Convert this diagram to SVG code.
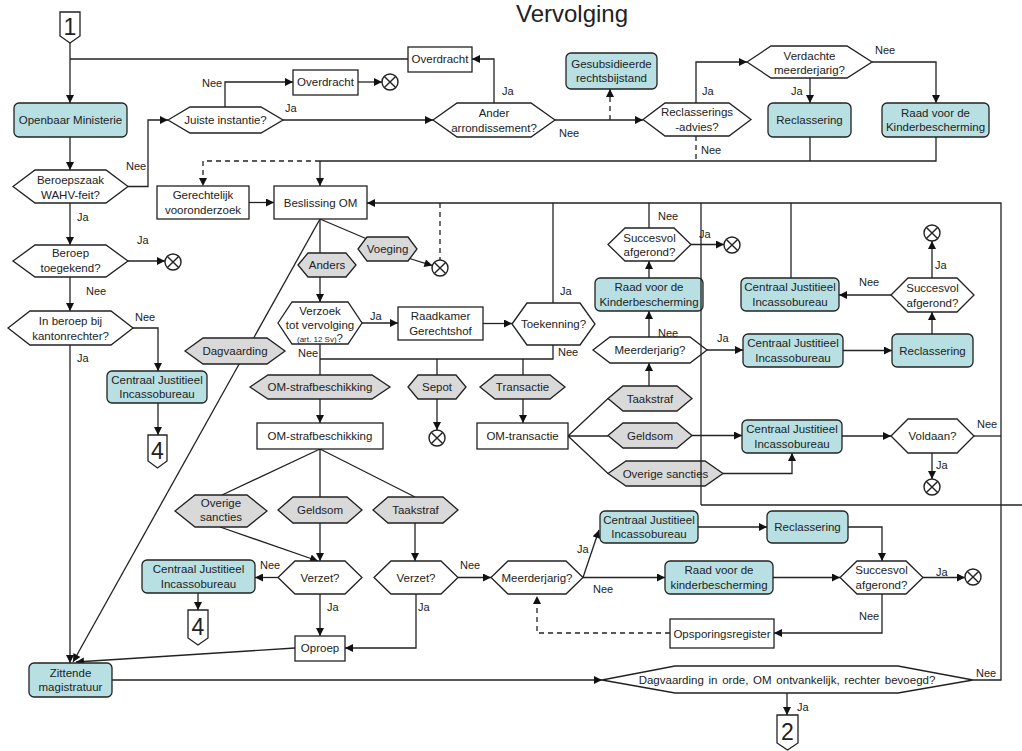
<svg xmlns="http://www.w3.org/2000/svg" xmlns:xlink="http://www.w3.org/1999/xlink" width="1022" height="751" viewBox="0 0 1022 751">
<style>
.w{fill:#fff;stroke:#222;stroke-width:1.3}
.t{fill:#b8e0e3;stroke:#222;stroke-width:1.3}
.g{fill:#d9d9d9;stroke:#222;stroke-width:1.3}
text{font-family:"Liberation Sans",Arial,sans-serif;fill:#222}
.tx{font-size:11.5px;text-anchor:middle}
.lb{font-size:11px}
.num{font-size:23px;text-anchor:middle}
.c{fill:none;stroke:#222;stroke-width:1.3}
.a{marker-end:url(#arr)}
.d{stroke-dasharray:5,4}
</style>
<defs>
<marker id="arr" viewBox="0 0 10 10" refX="10" refY="5" markerWidth="9" markerHeight="8" markerUnits="userSpaceOnUse" orient="auto"><path d="M0,0 L10,5 L0,10 z" fill="#111"/></marker>
<g id="x"><circle r="8" fill="#fff" stroke="#222" stroke-width="1.4"/><path d="M-5.6,-5.6 L5.6,5.6 M5.6,-5.6 L-5.6,5.6" stroke="#222" stroke-width="1.4"/></g>
</defs>
<rect width="1022" height="751" fill="#fff"/>
<text x="572" y="22" style="font-size:24px;text-anchor:middle">Vervolging</text>

<g id="connectors" class="c">
<path class="c a" d="M70,43 V103"/>
<path class="c" d="M408,59 H70"/>
<path class="c a" d="M70,137 V170"/>
<path class="c a" d="M128,186.5 H148 V120 H168"/>
<path class="c a" d="M70,203 V245"/>
<path class="c a" d="M128,261 H165"/>
<path class="c a" d="M70,277 V311"/>
<path class="c a" d="M133,328 H158 V371"/>
<path class="c a" d="M158,403 V435"/>
<path class="c a" d="M70,345 V663"/>
<path class="c a" d="M225,107 V82 H293"/>
<path class="c a" d="M358,82 H382"/>
<path class="c a" d="M283,120 H433"/>
<path class="c a" d="M494,103 V59 H472"/>
<path class="c a" d="M555,120 H643"/>
<path class="c a d" d="M610,120 V89"/>
<path class="c a" d="M696,103 V62 H747"/>
<path class="c d" d="M696,136 V161"/>
<path class="c a" d="M810,78 V103"/>
<path class="c a" d="M872,62 H936 V103"/>
<path class="c" d="M810,137 V161"/>
<path class="c" d="M936,137 V161 H320"/>
<path class="c a" d="M320,161 V186"/>
<path class="c a d" d="M320,161 H203 V186"/>
<path class="c a" d="M249,202.5 H274"/>
<path class="c a" d="M973,680 H1001 V203 H367"/>
<path class="c" d="M553,203 V303"/>
<path class="c" d="M649,203 V228"/>
<path class="c" d="M791,203 V278"/>
<path class="c d" d="M440,203 V260"/>
<path class="c" d="M701,505 H1022"/>
<path class="c" d="M320,219 V253"/>
<path class="c a" d="M320,277 V302"/>
<path class="c" d="M320,219 L367,239"/>
<path class="c a" d="M408,258 L432.4,265.6"/>
<path class="c a" d="M320,219 L73,662"/>
<path class="c a" d="M362,323 H398"/>
<path class="c a" d="M483,323.5 H512"/>
<path class="c" d="M553,345 V359 H320"/>
<path class="c" d="M320,344 V375"/>
<path class="c a" d="M320,399 V423"/>
<path class="c" d="M437,359 V375"/>
<path class="c" d="M523,359 V375"/>
<path class="c a" d="M437,399 V430"/>
<path class="c a" d="M523,399 V423"/>
<path class="c" d="M568,436 L608,398.5 M568,436 H608 M568,436 L608,473.5"/>
<path class="c a" d="M649,386 V363"/>
<path class="c a" d="M649,337 V311"/>
<path class="c a" d="M649,278 V261"/>
<path class="c a" d="M691,244.5 H724"/>
<path class="c a" d="M707,350 H743"/>
<path class="c a" d="M843,350.5 H892"/>
<path class="c a" d="M932,334 V312"/>
<path class="c a" d="M932,278 V241"/>
<path class="c a" d="M891,295 H839"/>
<path class="c a" d="M692,435.5 H742"/>
<path class="c a" d="M723,473.5 H792 V453"/>
<path class="c a" d="M842,436 H891"/>
<path class="c" d="M974,436 H1001"/>
<path class="c a" d="M932,453 V479"/>
<path class="c" d="M320,449 L222,495 M320,449 V497 M320,449 L415,497"/>
<path class="c a" d="M220,527 L318,561"/>
<path class="c a" d="M320,523 V561"/>
<path class="c a" d="M278,577.5 H255"/>
<path class="c a" d="M198,593 V610"/>
<path class="c a" d="M320,594 V636"/>
<path class="c a" d="M295,648 L76,662"/>
<path class="c a" d="M415,523 V561"/>
<path class="c a" d="M416,594 V648 H345"/>
<path class="c a" d="M458,577.5 H491"/>
<path class="c a" d="M583,577.5 L599,530"/>
<path class="c a" d="M583,577.5 H665"/>
<path class="c a" d="M698,527 H767"/>
<path class="c a" d="M848,527 H882 V561"/>
<path class="c a" d="M773,577.5 H840"/>
<path class="c a" d="M923,577.5 H965"/>
<path class="c a" d="M882,594 V633 H774"/>
<path class="c a d" d="M670,633 H537 V596"/>
<path class="c a" d="M112,680 H602"/>
<path class="c a" d="M787,693 V715"/>
</g>

<g id="n-start1"><polygon class="w" points="60,12 80,12 80,36 70,43 60,36"/><text class="num" x="70" y="35">1</text></g>
<g id="n-om"><rect class="t" x="14" y="103" width="113" height="34" rx="5"/><text class="tx" x="70.5" y="124">Openbaar Ministerie</text></g>
<g id="n-beroepszaak"><polygon class="w" points="13,186.5 35,170 106,170 128,186.5 106,203 35,203"/><text class="tx" x="70.5" y="184">Beroepszaak</text><text class="tx" x="70.5" y="199">WAHV-feit?</text></g>
<g id="n-beroep"><polygon class="w" points="13,261 35,245 106,245 128,261 106,277 35,277"/><text class="tx" x="70.5" y="257">Beroep</text><text class="tx" x="70.5" y="272">toegekend?</text></g>
<g id="n-kanton"><polygon class="w" points="8,328 30,311 111,311 133,328 111,345 30,345"/><text class="tx" x="70.5" y="325">In beroep bij</text><text class="tx" x="70.5" y="340">kantonrechter?</text></g>
<g id="n-cjib-l"><rect class="t" x="107" y="371" width="100" height="32" rx="5"/><text class="tx" x="157" y="384">Centraal Justitieel</text><text class="tx" x="157" y="398">Incassobureau</text></g>
<g id="n-4a"><polygon class="w" points="148,435 167,435 167,461 157.5,468 148,461"/><text class="num" x="157.5" y="459">4</text></g>
<g id="n-juiste"><polygon class="w" points="168,120 190,107 261,107 283,120 261,133 190,133"/><text class="tx" x="225.5" y="124">Juiste instantie?</text></g>
<g id="n-overdracht2"><rect class="w" x="293" y="70" width="65" height="25"/><text class="tx" x="325.5" y="86">Overdracht</text></g>
<g id="n-overdracht1"><rect class="w" x="408" y="47" width="64" height="25"/><text class="tx" x="440" y="63">Overdracht</text></g>
<g id="n-ander"><polygon class="w" points="433,120 457,103 531,103 555,120 531,137 457,137"/><text class="tx" x="494" y="117">Ander</text><text class="tx" x="494" y="132">arrondissement?</text></g>
<g id="n-gesub"><rect class="t" x="566" y="53" width="91" height="36" rx="5"/><text class="tx" x="611.5" y="68">Gesubsidieerde</text><text class="tx" x="611.5" y="82">rechtsbijstand</text></g>
<g id="n-reclas-advies"><polygon class="w" points="643,119.5 665,103 729,103 751,119.5 729,136 665,136"/><text class="tx" x="697" y="116">Reclasserings</text><text class="tx" x="697" y="131">-advies?</text></g>
<g id="n-verdachte"><polygon class="w" points="747,62 771,46 847,46 872,62 847,78 771,78"/><text class="tx" x="809.5" y="60">Verdachte</text><text class="tx" x="809.5" y="74">meerderjarig?</text></g>
<g id="n-reclas-top"><rect class="t" x="768" y="103" width="83" height="34" rx="5"/><text class="tx" x="809.5" y="124">Reclassering</text></g>
<g id="n-raad-top"><rect class="t" x="882" y="103" width="107" height="34" rx="5"/><text class="tx" x="935.5" y="117">Raad voor de</text><text class="tx" x="935.5" y="131">Kinderbescherming</text></g>
<g id="n-gerecht"><rect class="w" x="157" y="186" width="92" height="33"/><text class="tx" x="203" y="199">Gerechtelijk</text><text class="tx" x="203" y="214">vooronderzoek</text></g>
<g id="n-beslissing"><rect class="w" x="274" y="186" width="93" height="33"/><text class="tx" x="320.5" y="207">Beslissing OM</text></g>
<g id="n-voeging"><polygon class="g" points="358,249 367,237 408,237 417,249 408,261 367,261"/><text class="tx" x="387.5" y="253">Voeging</text></g>
<g id="n-x-voeging"><use xlink:href="#x" x="440" y="268"/></g>
<g id="n-anders"><polygon class="g" points="298,265 308,253 346,253 356,265 346,277 308,277"/><text class="tx" x="327" y="269">Anders</text></g>
<g id="n-verzoek"><polygon class="w" points="278,323 292,302 348,302 362,323 348,344 292,344"/><text class="tx" x="320" y="315">Verzoek</text><text class="tx" x="320" y="329">tot vervolging</text><text class="tx" x="320" y="342"><tspan style="font-size:8px">(art. 12 Sv)</tspan>?</text></g>
<g id="n-raadkamer"><rect class="w" x="398" y="307" width="85" height="33"/><text class="tx" x="440.5" y="320">Raadkamer</text><text class="tx" x="440.5" y="335">Gerechtshof</text></g>
<g id="n-toekenning"><polygon class="w" points="512,324 527,303 580,303 595,324 580,345 527,345"/><text class="tx" x="553.5" y="328">Toekenning?</text></g>
<g id="n-dagvaarding"><polygon class="g" points="185,351 203,338 267,338 285,351 267,364 203,364"/><text class="tx" x="235" y="355">Dagvaarding</text></g>
<g id="n-omstraf-hex"><polygon class="g" points="250,387 268,375 372,375 390,387 372,399 268,399"/><text class="tx" x="320" y="391">OM-strafbeschikking</text></g>
<g id="n-sepot"><polygon class="g" points="408,387 418,375 456,375 466,387 456,399 418,399"/><text class="tx" x="437" y="391">Sepot</text></g>
<g id="n-x-sepot"><use xlink:href="#x" x="437" y="438"/></g>
<g id="n-transactie"><polygon class="g" points="480,387 495,375 550,375 565,387 550,399 495,399"/><text class="tx" x="522.5" y="391">Transactie</text></g>
<g id="n-omstraf"><rect class="w" x="257" y="423" width="126" height="26"/><text class="tx" x="320" y="440">OM-strafbeschikking</text></g>
<g id="n-omtrans"><rect class="w" x="477" y="423" width="91" height="26"/><text class="tx" x="522.5" y="440">OM-transactie</text></g>
<g id="n-taak-r"><polygon class="g" points="608,398.5 623,386 677,386 692,398.5 677,411 623,411"/><text class="tx" x="650" y="403">Taakstraf</text></g>
<g id="n-geld-r"><polygon class="g" points="608,435.5 623,423 677,423 692,435.5 677,448 623,448"/><text class="tx" x="650" y="440">Geldsom</text></g>
<g id="n-overig-r"><polygon class="g" points="608,473.5 626,461 705,461 723,473.5 705,486 626,486"/><text class="tx" x="665.5" y="478">Overige sancties</text></g>
<g id="n-meerd-m"><polygon class="w" points="593,350 610,337 690,337 707,350 690,363 610,363"/><text class="tx" x="650" y="354">Meerderjarig?</text></g>
<g id="n-raad-m"><rect class="t" x="595" y="278" width="108" height="33" rx="5"/><text class="tx" x="649" y="291">Raad voor de</text><text class="tx" x="649" y="306">Kinderbescherming</text></g>
<g id="n-succ-m"><polygon class="w" points="608,244.5 625,228 674,228 691,244.5 674,261 625,261"/><text class="tx" x="649.5" y="242">Succesvol</text><text class="tx" x="649.5" y="256">afgerond?</text></g>
<g id="n-x-succ-m"><use xlink:href="#x" x="732" y="245"/></g>
<g id="n-cjib1"><rect class="t" x="741" y="278" width="98" height="33" rx="5"/><text class="tx" x="790" y="291">Centraal Justitieel</text><text class="tx" x="790" y="306">Incassobureau</text></g>
<g id="n-succ-r"><polygon class="w" points="891,295 908,278 957,278 974,295 957,312 908,312"/><text class="tx" x="932.5" y="292">Succesvol</text><text class="tx" x="932.5" y="307">afgerond?</text></g>
<g id="n-x-succ-r"><use xlink:href="#x" x="932" y="233"/></g>
<g id="n-cjib2"><rect class="t" x="743" y="334" width="100" height="33" rx="5"/><text class="tx" x="793" y="347">Centraal Justitieel</text><text class="tx" x="793" y="362">Incassobureau</text></g>
<g id="n-reclas-m"><rect class="t" x="892" y="334" width="81" height="33" rx="5"/><text class="tx" x="932.5" y="355">Reclassering</text></g>
<g id="n-cjib3"><rect class="t" x="742" y="420" width="100" height="33" rx="5"/><text class="tx" x="792" y="433">Centraal Justitieel</text><text class="tx" x="792" y="448">Incassobureau</text></g>
<g id="n-voldaan"><polygon class="w" points="891,436 908,419 957,419 974,436 957,453 908,453"/><text class="tx" x="932.5" y="440">Voldaan?</text></g>
<g id="n-x-voldaan"><use xlink:href="#x" x="932" y="487"/></g>
<g id="n-overig-l"><polygon class="g" points="175,511 195,495 247,495 267,511 247,527 195,527"/><text class="tx" x="221" y="507">Overige</text><text class="tx" x="221" y="521">sancties</text></g>
<g id="n-geld-l"><polygon class="g" points="278,510 293,497 347,497 362,510 347,523 293,523"/><text class="tx" x="320" y="514">Geldsom</text></g>
<g id="n-taak-l"><polygon class="g" points="373,510 388,497 443,497 458,510 443,523 388,523"/><text class="tx" x="415.5" y="514">Taakstraf</text></g>
<g id="n-verzet-l"><polygon class="w" points="278,577.5 295,561 345,561 362,577.5 345,594 295,594"/><text class="tx" x="320" y="582">Verzet?</text></g>
<g id="n-verzet-r"><polygon class="w" points="374,577.5 391,561 441,561 458,577.5 441,594 391,594"/><text class="tx" x="416" y="582">Verzet?</text></g>
<g id="n-cjib4"><rect class="t" x="142" y="560" width="113" height="33" rx="5"/><text class="tx" x="198.5" y="573">Centraal Justitieel</text><text class="tx" x="198.5" y="588">Incassobureau</text></g>
<g id="n-4b"><polygon class="w" points="188,610 208,610 208,638 198,645 188,638"/><text class="num" x="198" y="635">4</text></g>
<g id="n-oproep"><rect class="w" x="295" y="636" width="50" height="25"/><text class="tx" x="320" y="652">Oproep</text></g>
<g id="n-meerd-b"><polygon class="w" points="491,577.5 508,561 566,561 583,577.5 566,594 508,594"/><text class="tx" x="537" y="582">Meerderjarig?</text></g>
<g id="n-cjib5"><rect class="t" x="600" y="511" width="98" height="32" rx="5"/><text class="tx" x="649" y="524">Centraal Justitieel</text><text class="tx" x="649" y="538">Incassobureau</text></g>
<g id="n-reclas-b"><rect class="t" x="767" y="511" width="81" height="32" rx="5"/><text class="tx" x="807.5" y="531">Reclassering</text></g>
<g id="n-raad-b"><rect class="t" x="665" y="561" width="108" height="33" rx="5"/><text class="tx" x="719" y="574">Raad voor de</text><text class="tx" x="719" y="589">kinderbescherming</text></g>
<g id="n-succ-b"><polygon class="w" points="840,577.5 857,561 906,561 923,577.5 906,594 857,594"/><text class="tx" x="881.5" y="574">Succesvol</text><text class="tx" x="881.5" y="589">afgerond?</text></g>
<g id="n-x-succ-b"><use xlink:href="#x" x="973" y="577"/></g>
<g id="n-opsporing"><rect class="w" x="670" y="619" width="104" height="29"/><text class="tx" x="722" y="638">Opsporingsregister</text></g>
<g id="n-zittende"><rect class="t" x="29" y="663" width="83" height="34" rx="5"/><text class="tx" x="70.5" y="677">Zittende</text><text class="tx" x="70.5" y="691">magistratuur</text></g>
<g id="n-dagv-orde"><polygon class="w" points="602,680 675,666 898,666 973,680 898,693 675,693"/><text class="tx" x="787" y="684" style="word-spacing:1.5px">Dagvaarding in orde, OM ontvankelijk, rechter bevoegd?</text></g>
<g id="n-2"><polygon class="w" points="777,715 798,715 798,743 787.5,750 777,743"/><text class="num" x="787.5" y="740">2</text></g>
<g id="n-x-beroep"><use xlink:href="#x" x="173" y="262"/></g>
<g id="n-x-overdracht"><use xlink:href="#x" x="390" y="82"/></g>

<g id="connectors-front"><path class="c" d="M701,203 V505"/></g>

<g id="labels">
<text class="lb" x="126" y="170">Nee</text>
<text class="lb" x="77" y="221">Ja</text>
<text class="lb" x="137" y="244">Ja</text>
<text class="lb" x="86" y="295">Nee</text>
<text class="lb" x="135" y="321">Nee</text>
<text class="lb" x="77" y="362">Ja</text>
<text class="lb" x="202" y="87">Nee</text>
<text class="lb" x="285" y="112">Ja</text>
<text class="lb" x="502" y="95">Ja</text>
<text class="lb" x="559" y="137">Nee</text>
<text class="lb" x="702" y="95">Ja</text>
<text class="lb" x="701" y="154">Nee</text>
<text class="lb" x="791" y="95">Ja</text>
<text class="lb" x="875" y="54">Nee</text>
<text class="lb" x="370" y="320">Ja</text>
<text class="lb" x="560" y="295">Ja</text>
<text class="lb" x="558" y="356">Nee</text>
<text class="lb" x="298" y="357">Nee</text>
<text class="lb" x="658" y="220">Nee</text>
<text class="lb" x="699" y="238">Ja</text>
<text class="lb" x="658" y="337">Nee</text>
<text class="lb" x="717" y="342">Ja</text>
<text class="lb" x="859" y="286">Nee</text>
<text class="lb" x="935" y="269">Ja</text>
<text class="lb" x="977" y="428">Nee</text>
<text class="lb" x="936" y="469">Ja</text>
<text class="lb" x="260" y="569">Nee</text>
<text class="lb" x="327" y="611">Ja</text>
<text class="lb" x="418" y="611">Ja</text>
<text class="lb" x="460" y="569">Nee</text>
<text class="lb" x="577" y="553">Ja</text>
<text class="lb" x="593" y="593">Nee</text>
<text class="lb" x="936" y="576">Ja</text>
<text class="lb" x="859" y="620">Nee</text>
<text class="lb" x="976" y="677">Nee</text>
<text class="lb" x="797" y="711">Ja</text>
</g>
</svg>
